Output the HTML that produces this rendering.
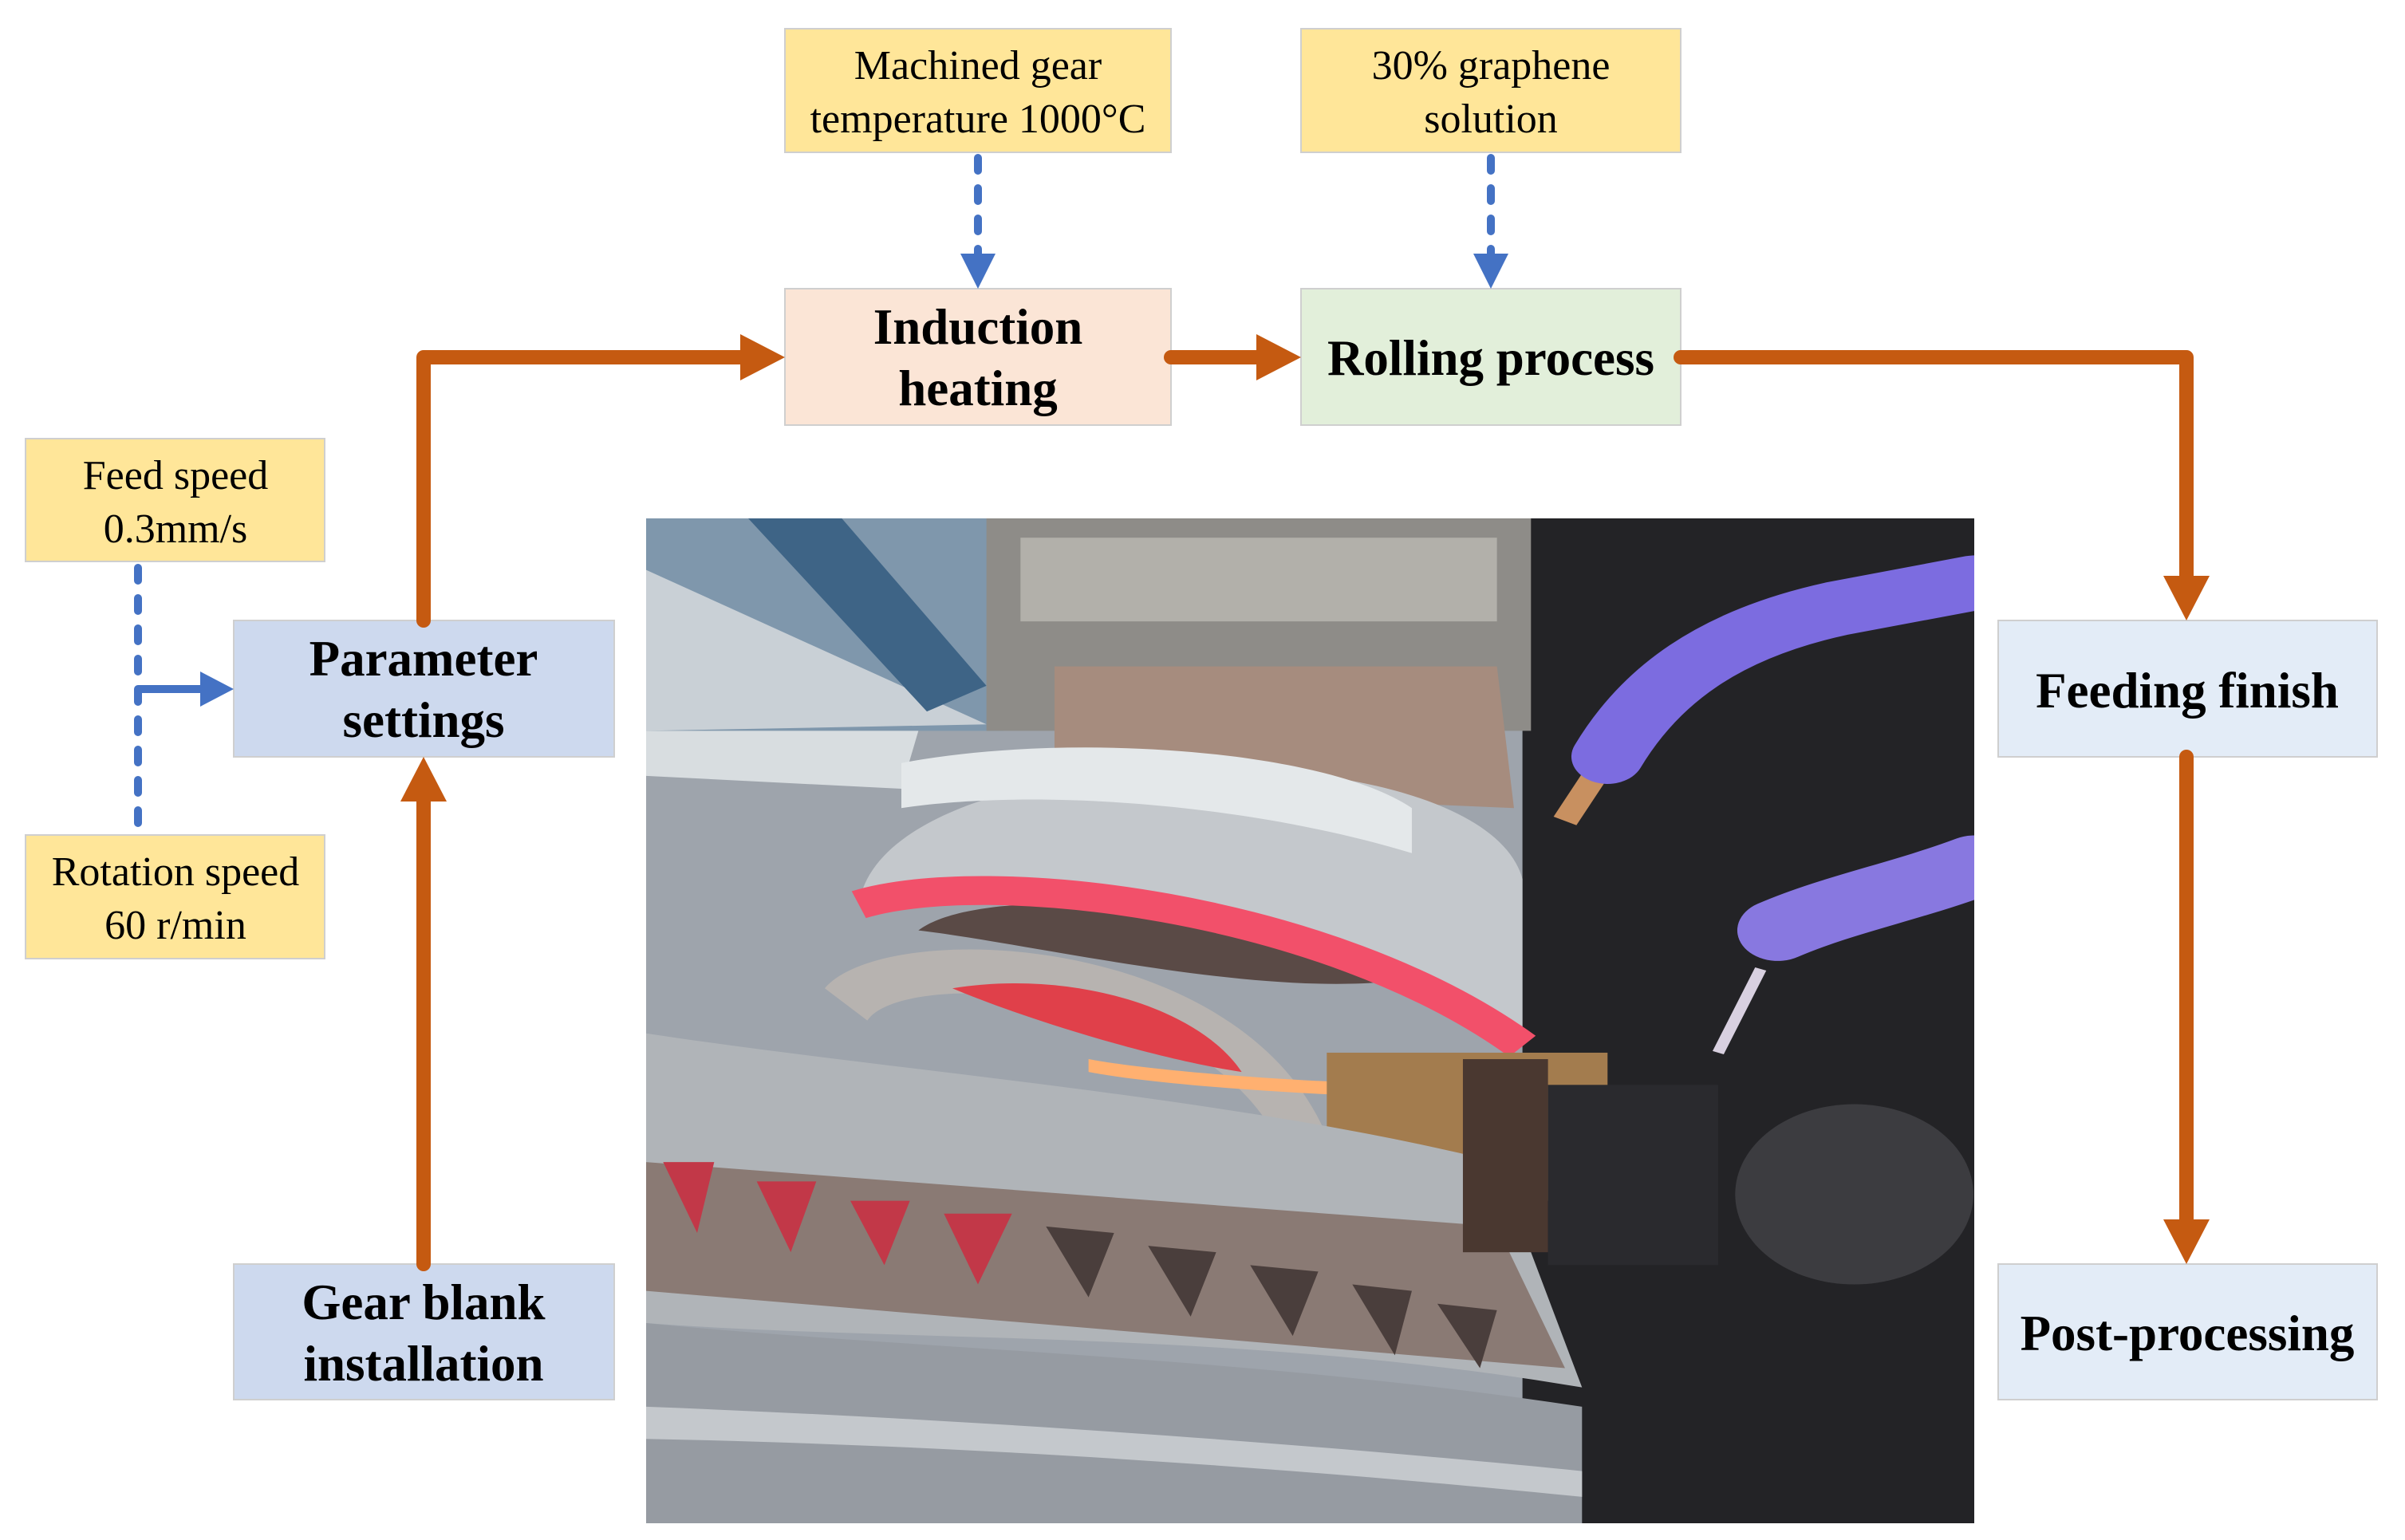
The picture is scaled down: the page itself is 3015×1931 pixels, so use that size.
<!DOCTYPE html>
<html><head><meta charset="utf-8"><style>
html,body{margin:0;padding:0;background:#fff}
svg{display:block}
.y{font-family:"Liberation Serif","DejaVu Serif",serif;font-size:52px;fill:#000}
.b{font-family:"Liberation Serif","DejaVu Serif",serif;font-size:63px;font-weight:bold;fill:#000}
</style></head><body>
<svg width="3015" height="1931" viewBox="0 0 3015 1931" xmlns="http://www.w3.org/2000/svg">
<rect width="3015" height="1931" fill="#fff"/>
<!-- photo -->
<svg x="810" y="650" width="1665" height="1260" viewBox="0 0 1561 1561" preserveAspectRatio="none">
<rect width="1561" height="1561" fill="#9ea4ac"/>
<rect x="1030" y="0" width="531" height="1561" fill="#232326"/>
<polygon points="0,0 420,0 420,330 0,330" fill="#7f97ac"/>
<polygon points="0,80 400,320 0,330" fill="#c9d0d6"/>
<polygon points="120,0 230,0 400,260 330,300" fill="#3e6486"/>
<polygon points="0,330 320,330 300,420 0,400" fill="#d8dde0"/>
<rect x="400" y="0" width="640" height="330" fill="#8e8c88"/>
<rect x="440" y="30" width="560" height="130" fill="#b2b0aa"/>
<polygon points="480,230 1000,230 1020,450 480,420" fill="#a68c7e"/>
<path d="M250,600 C280,330 980,320 1030,560 L1030,820 C900,700 400,560 250,600Z" fill="#c4c8cc"/>
<path d="M300,380 C500,330 800,360 900,450 L900,520 C700,440 450,420 300,450Z" fill="#e4e8ea"/>
<path d="M320,640 C400,560 750,600 870,720 C700,740 450,660 320,640Z" fill="#5a4a46"/>
<path d="M250,600 C400,540 800,600 1030,820" fill="none" stroke="#f2506a" stroke-width="45"/>
<path d="M210,730 C280,620 700,640 800,960 L740,960 C640,720 300,700 260,780Z" fill="#b7b3b0"/>
<path d="M360,730 C500,700 650,760 700,860 C600,840 450,780 360,730Z" fill="#e0404a"/>
<path d="M520,840 C600,860 800,880 960,880 L960,900 C800,900 600,880 520,860Z" fill="#ffb070"/>
<rect x="800" y="830" width="330" height="230" fill="#a37c4e"/>
<path d="M0,800 C300,860 700,900 1000,1000 L1100,1350 C700,1260 300,1280 0,1250Z" fill="#b0b4b8"/>
<path d="M0,1000 L1000,1100 L1080,1320 L0,1200Z" fill="#8a7a74"/>
<g fill="#c23848">
<polygon points="20,1000 80,1000 60,1110"/><polygon points="130,1030 200,1030 170,1140"/><polygon points="240,1060 310,1060 280,1160"/><polygon points="350,1080 430,1080 390,1190"/>
</g>
<g fill="#4a3e3c">
<polygon points="470,1100 550,1110 520,1210"/><polygon points="590,1130 670,1140 640,1240"/><polygon points="710,1160 790,1170 760,1270"/><polygon points="830,1190 900,1200 880,1300"/><polygon points="930,1220 1000,1230 980,1320"/>
</g>
<path d="M0,1250 C300,1290 700,1300 1100,1380 L1100,1561 L0,1561Z" fill="#969ba2"/>
<path d="M0,1380 C400,1400 800,1440 1100,1480 L1100,1520 C800,1480 400,1440 0,1430Z" fill="#c4c8cc"/>
<rect x="960" y="840" width="100" height="300" fill="#4a3830"/>
<circle cx="1420" cy="1050" r="140" fill="#3c3c40"/>
<rect x="1060" y="880" width="200" height="280" fill="#2a2a2e"/>
<path d="M1080,470 L1130,370" stroke="#c89060" stroke-width="30" fill="none"/>
<path d="M1130,370 C1180,260 1260,180 1400,140 L1561,100" stroke="#7c6ce0" stroke-width="85" fill="none" stroke-linecap="round"/>
<path d="M1330,640 C1400,600 1480,580 1561,540" stroke="#8878e0" stroke-width="95" fill="none" stroke-linecap="round"/>
<path d="M1310,700 L1260,830" stroke="#d8d0e0" stroke-width="14"/>
</svg>

<!-- boxes -->
<g stroke="#cfcfcf" stroke-width="2">
<rect x="984" y="36" width="484" height="155" fill="#FFE699"/>
<rect x="1631" y="36" width="476" height="155" fill="#FFE699"/>
<rect x="984" y="362" width="484" height="171" fill="#FBE5D6"/>
<rect x="1631" y="362" width="476" height="171" fill="#E2EFDA"/>
<rect x="32" y="550" width="375" height="154" fill="#FFE699"/>
<rect x="32" y="1047" width="375" height="155" fill="#FFE699"/>
<rect x="293" y="778" width="477" height="171" fill="#CDD9EE"/>
<rect x="293" y="1585" width="477" height="170" fill="#CDD9EE"/>
<rect x="2505" y="778" width="475" height="171" fill="#E3ECF7"/>
<rect x="2505" y="1585" width="475" height="170" fill="#E3ECF7"/>
</g>
<g text-anchor="middle">
<text class="y" x="1226" y="99">Machined gear</text>
<text class="y" x="1226" y="166">temperature 1000°C</text>
<text class="y" x="1869" y="99">30% graphene</text>
<text class="y" x="1869" y="166">solution</text>
<text class="y" x="220" y="613">Feed speed</text>
<text class="y" x="220" y="680">0.3mm/s</text>
<text class="y" x="220" y="1110">Rotation speed</text>
<text class="y" x="220" y="1177">60 r/min</text>
<text class="b" x="1226" y="431">Induction</text>
<text class="b" x="1226" y="508">heating</text>
<text class="b" x="1869" y="470">Rolling process</text>
<text class="b" x="531" y="847">Parameter</text>
<text class="b" x="531" y="924">settings</text>
<text class="b" x="531" y="1654">Gear blank</text>
<text class="b" x="531" y="1731">installation</text>
<text class="b" x="2742" y="887">Feeding finish</text>
<text class="b" x="2742" y="1693">Post-processing</text>
</g>

<!-- orange connectors -->
<g stroke="#C55A11" stroke-width="18" fill="none" stroke-linecap="round" stroke-linejoin="round">
<polyline points="531,778 531,448 930,448"/>
<line x1="1468" y1="448" x2="1577" y2="448"/>
<polyline points="2107,448 2741,448 2741,722"/>
<line x1="2741" y1="949" x2="2741" y2="1529"/>
<line x1="531" y1="1585" x2="531" y2="1005"/>
</g>
<g fill="#C55A11">
<polygon points="928,419 984,448 928,477"/>
<polygon points="1575,419 1631,448 1575,477"/>
<polygon points="2712,722 2741,778 2770,722"/>
<polygon points="2712,1529 2741,1585 2770,1529"/>
<polygon points="502,1005 531,949 560,1005"/>
</g>

<!-- blue connectors -->
<g stroke="#4472C4" stroke-width="10" fill="none" stroke-linecap="round" stroke-dasharray="16 22">
<line x1="1226" y1="198" x2="1226" y2="322"/>
<line x1="1869" y1="198" x2="1869" y2="322"/>
<line x1="173" y1="712" x2="173" y2="1040"/>
</g>
<line x1="173" y1="864" x2="255" y2="864" stroke="#4472C4" stroke-width="10"/>
<g fill="#4472C4">
<polygon points="1204,318 1248,318 1226,362"/>
<polygon points="1847,318 1891,318 1869,362"/>
<polygon points="251,842 293,864 251,886"/>
</g>
</svg>
</body></html>
